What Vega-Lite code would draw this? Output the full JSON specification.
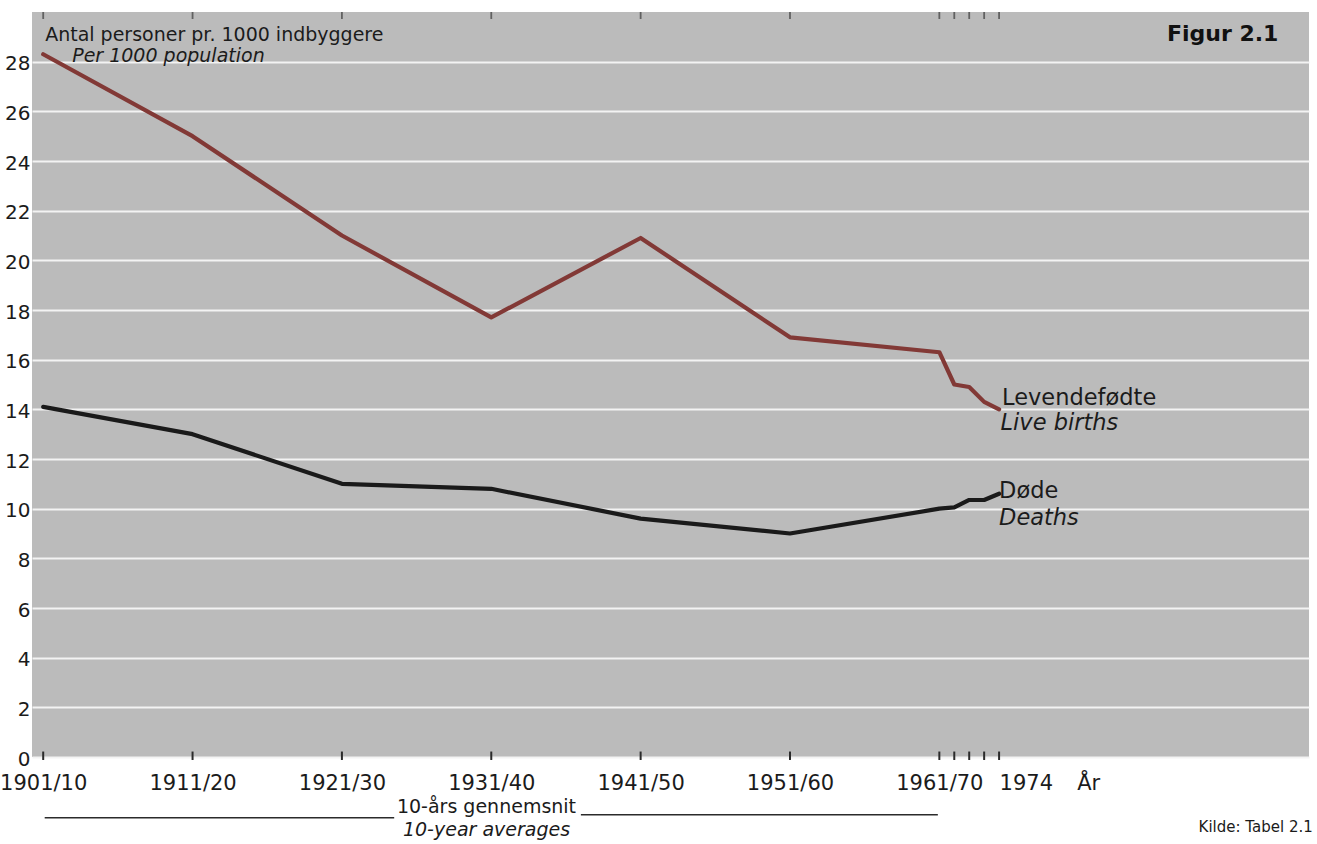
{
  "$schema": "https://vega.github.io/schema/vega-lite/v6.json",
  "width": 1277,
  "height": 745,
  "autosize": {"type": "none"},
  "padding": {"left": 32, "top": 12, "right": 8, "bottom": 87},
  "background": "#ffffff",
  "config": {"view": {"fill": "#bbbbbb", "stroke": null}, "font": "DejaVu Sans"},
  "resolve": {"axis": {"x": "independent", "y": "independent"}},
  "datasets": {
    "rates": [
      {"series": "Levendefødte", "period": "1901/10", "p": 0, "v": 28.3},
      {"series": "Levendefødte", "period": "1911/20", "p": 1, "v": 25.0},
      {"series": "Levendefødte", "period": "1921/30", "p": 2, "v": 21.0},
      {"series": "Levendefødte", "period": "1931/40", "p": 3, "v": 17.7},
      {"series": "Levendefødte", "period": "1941/50", "p": 4, "v": 20.9},
      {"series": "Levendefødte", "period": "1951/60", "p": 5, "v": 16.9},
      {"series": "Levendefødte", "period": "1961/70", "p": 6, "v": 16.3},
      {"series": "Levendefødte", "period": "1971", "p": 6.1, "v": 15.0},
      {"series": "Levendefødte", "period": "1972", "p": 6.2, "v": 14.9},
      {"series": "Levendefødte", "period": "1973", "p": 6.3, "v": 14.3},
      {"series": "Levendefødte", "period": "1974", "p": 6.4, "v": 14.0},
      {"series": "Døde", "period": "1901/10", "p": 0, "v": 14.1},
      {"series": "Døde", "period": "1911/20", "p": 1, "v": 13.0},
      {"series": "Døde", "period": "1921/30", "p": 2, "v": 11.0},
      {"series": "Døde", "period": "1931/40", "p": 3, "v": 10.8},
      {"series": "Døde", "period": "1941/50", "p": 4, "v": 9.6},
      {"series": "Døde", "period": "1951/60", "p": 5, "v": 9.0},
      {"series": "Døde", "period": "1961/70", "p": 6, "v": 10.0},
      {"series": "Døde", "period": "1971", "p": 6.1, "v": 10.05},
      {"series": "Døde", "period": "1972", "p": 6.2, "v": 10.35},
      {"series": "Døde", "period": "1973", "p": 6.3, "v": 10.35},
      {"series": "Døde", "period": "1974", "p": 6.4, "v": 10.6}
    ],
    "ticks": [
      {"p": 0}, {"p": 1}, {"p": 2}, {"p": 3}, {"p": 4}, {"p": 5}, {"p": 6},
      {"p": 6.1}, {"p": 6.2}, {"p": 6.3}, {"p": 6.4}
    ],
    "brackets": [
      {"p": 0.01, "p2": 2.35, "v": -2.45},
      {"p": 3.6, "p2": 5.99, "v": -2.33}
    ],
    "notes": [
      {"kind": "unit", "text": "Antal personer pr. 1000 indbyggere", "p": 0.013, "v": 28.83},
      {"kind": "unitItalic", "text": "Per 1000 population", "p": 0.194, "v": 27.97},
      {"kind": "series", "text": "Levendefødte", "p": 6.42, "v": 14.17},
      {"kind": "seriesItalic", "text": "Live births", "p": 6.41, "v": 13.16},
      {"kind": "series", "text": "Døde", "p": 6.4, "v": 10.42},
      {"kind": "seriesItalic", "text": "Deaths", "p": 6.4, "v": 9.34},
      {"kind": "fig", "text": "Figur 2.1", "p": 8.27, "v": 28.83},
      {"kind": "avg", "text": "10-års gennemsnit", "p": 2.968, "v": -2.26},
      {"kind": "avgItalic", "text": "10-year averages", "p": 2.968, "v": -3.18},
      {"kind": "src", "text": "Kilde: Tabel 2.1", "p": 8.5, "v": -3.02}
    ]
  },
  "layer": [
    {
      "data": {"name": "rates"},
      "mark": {"type": "line", "strokeWidth": 4.2, "strokeJoin": "round", "strokeCap": "round"},
      "encoding": {
        "x": {
          "field": "p",
          "type": "quantitative",
          "scale": {"domain": [-0.075, 8.475], "nice": false, "zero": false},
          "axis": {
            "values": [0, 1, 2, 3, 4, 5, 6, 6.4, 6.92],
            "labelExpr": "datum.value < 6.2 ? ['1901/10','1911/20','1921/30','1931/40','1941/50','1951/60','1961/70'][round(datum.value)] : (datum.value < 6.6 ? '1974' : 'År')",
            "labelAlign": {"condition": {"test": "datum.value > 6.2", "value": "left"}, "value": "center"},
            "labelBaseline": "alphabetic",
            "labelPadding": 32,
            "labelFontSize": 21,
            "labelFont": "DejaVu Sans",
            "labelColor": "#1b1b1b",
            "labelOverlap": false,
            "labelFlush": false,
            "labelBound": false,
            "ticks": false,
            "tickSize": 0,
            "domain": false,
            "grid": false,
            "title": null
          }
        },
        "y": {
          "field": "v",
          "type": "quantitative",
          "scale": {"domain": [0, 30], "nice": false, "zero": true},
          "axis": {
            "values": [0, 2, 4, 6, 8, 10, 12, 14, 16, 18, 20, 22, 24, 26, 28],
            "grid": true,
            "gridColor": "#f3f3f3",
            "gridWidth": 2,
            "gridOpacity": 1,
            "ticks": false,
            "tickSize": 0,
            "domain": false,
            "labelFontSize": 20,
            "labelFont": "DejaVu Sans",
            "labelColor": "#1b1b1b",
            "labelPadding": 2,
            "labelBaseline": "middle",
            "labelOffset": 2,
            "title": null
          }
        },
        "color": {
          "field": "series",
          "type": "nominal",
          "scale": {"domain": ["Levendefødte", "Døde"], "range": ["#823936", "#1a1a1a"]},
          "legend": null
        }
      }
    },
    {
      "data": {"name": "ticks"},
      "mark": {"type": "rule", "color": "#2a2a2a", "strokeWidth": 2},
      "encoding": {
        "x": {"field": "p", "type": "quantitative", "scale": {"domain": [-0.075, 8.475], "nice": false, "zero": false}, "axis": null},
        "y": {"datum": -0.12, "type": "quantitative", "scale": {"domain": [0, 30], "nice": false, "zero": true}, "axis": null},
        "y2": {"datum": 0.22}
      }
    },
    {
      "data": {"name": "ticks"},
      "mark": {"type": "tick", "orient": "vertical", "color": "#3a3a3a", "thickness": 1.8, "size": 7},
      "encoding": {
        "x": {"field": "p", "type": "quantitative", "scale": {"domain": [-0.075, 8.475], "nice": false, "zero": false}, "axis": null},
        "y": {"datum": 29.86, "type": "quantitative", "scale": {"domain": [0, 30], "nice": false, "zero": true}, "axis": null}
      }
    },
    {
      "data": {"name": "brackets"},
      "mark": {"type": "rule", "color": "#2b2b2b", "strokeWidth": 1.5},
      "encoding": {
        "x": {"field": "p", "type": "quantitative", "scale": {"domain": [-0.075, 8.475], "nice": false, "zero": false}, "axis": null},
        "x2": {"field": "p2"},
        "y": {"field": "v", "type": "quantitative", "scale": {"domain": [0, 30], "nice": false, "zero": true}, "axis": null}
      }
    },
    {
      "data": {"name": "notes"},
      "encoding": {
        "x": {"field": "p", "type": "quantitative", "scale": {"domain": [-0.075, 8.475], "nice": false, "zero": false}, "axis": null},
        "y": {"field": "v", "type": "quantitative", "scale": {"domain": [0, 30], "nice": false, "zero": true}, "axis": null},
        "text": {"field": "text"}
      },
      "layer": [
        {
          "transform": [{"filter": "datum.kind == 'unit'"}],
          "mark": {"type": "text", "align": "left", "baseline": "alphabetic", "fontSize": 19, "color": "#1b1b1b"}
        },
        {
          "transform": [{"filter": "datum.kind == 'unitItalic'"}],
          "mark": {"type": "text", "align": "left", "baseline": "alphabetic", "fontSize": 19, "fontStyle": "italic", "color": "#1b1b1b"}
        },
        {
          "transform": [{"filter": "datum.kind == 'series'"}],
          "mark": {"type": "text", "align": "left", "baseline": "alphabetic", "fontSize": 22.5, "color": "#1b1b1b"}
        },
        {
          "transform": [{"filter": "datum.kind == 'seriesItalic'"}],
          "mark": {"type": "text", "align": "left", "baseline": "alphabetic", "fontSize": 22.5, "fontStyle": "italic", "color": "#1b1b1b"}
        },
        {
          "transform": [{"filter": "datum.kind == 'fig'"}],
          "mark": {"type": "text", "align": "right", "baseline": "alphabetic", "fontSize": 22, "fontWeight": "bold", "color": "#111111"}
        },
        {
          "transform": [{"filter": "datum.kind == 'avg'"}],
          "mark": {"type": "text", "align": "center", "baseline": "alphabetic", "fontSize": 19, "color": "#1b1b1b"}
        },
        {
          "transform": [{"filter": "datum.kind == 'avgItalic'"}],
          "mark": {"type": "text", "align": "center", "baseline": "alphabetic", "fontSize": 19, "fontStyle": "italic", "color": "#1b1b1b"}
        },
        {
          "transform": [{"filter": "datum.kind == 'src'"}],
          "mark": {"type": "text", "align": "right", "baseline": "alphabetic", "fontSize": 15, "color": "#1b1b1b"}
        }
      ]
    }
  ]
}
